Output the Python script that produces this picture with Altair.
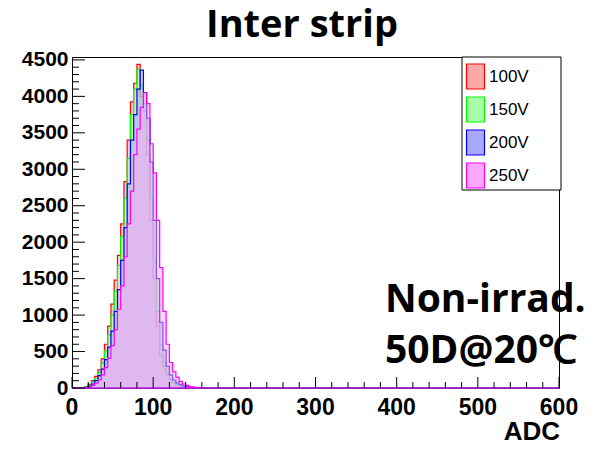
import altair as alt
import pandas as pd

# ---------------- data ----------------
series_names = ["100V", "150V", "200V", "250V"]
series_colors = ["#ff0000", "#00ff00", "#0000ff", "#ff00ff"]
series_fills = ["#ffa8a8", "#a8ffa8", "#a8a8ff", "#ffa8ff"]

# lower bin edges (ADC), bin width 4
bin_edges = list(range(12, 176, 4))

counts_100V = [5, 20, 50, 100, 160, 250, 400, 600, 850, 1150, 1480, 1820, 2250, 2830,
               3400, 3925, 4180, 4440, 4000, 3800, 3200, 2300, 1500, 850, 450, 300, 180,
               110, 65, 40, 25, 15, 9, 5, 3, 2, 1, 0, 0, 0, 0]
counts_150V = [3, 15, 40, 80, 130, 210, 340, 510, 730, 1000, 1330, 1680, 2080, 2600,
               3150, 3750, 4100, 4370, 4150, 3900, 3400, 2600, 1750, 1050, 600, 360, 210,
               125, 75, 45, 28, 17, 10, 6, 3, 2, 1, 0, 0, 0, 0]
counts_200V = [2, 10, 25, 55, 100, 170, 260, 390, 560, 780, 1050, 1350, 1750, 2200,
               2800, 3400, 3750, 4100, 4360, 4050, 3700, 3100, 2300, 1500, 900, 520, 300,
               180, 110, 70, 45, 28, 18, 11, 7, 4, 2, 1, 0, 0, 0]
counts_250V = [1, 5, 15, 35, 65, 110, 180, 280, 410, 580, 800, 1080, 1400, 1800,
               2250, 2700, 3200, 3550, 3850, 4050, 3900, 3350, 2950, 2300, 1650, 1050, 600,
               350, 220, 150, 90, 55, 35, 20, 12, 7, 4, 2, 1, 0, 0]

x_range = [0, 600]
y_range = [0, 4540]
x_major = [0, 100, 200, 300, 400, 500, 600]
x_minor = [v for v in range(0, 601, 20) if v % 100 != 0]
y_major = [0, 500, 1000, 1500, 2000, 2500, 3000, 3500, 4000, 4500]
y_minor = [v for v in range(0, 4501, 100) if v % 500 != 0]

title_text = "Inter strip"
note_line1 = "Non-irrad."
note_line2 = "50D@20℃"
x_title = "ADC"

# ---------------- build table ----------------
rows = []
for name, vals in zip(series_names, [counts_100V, counts_150V, counts_200V, counts_250V]):
    rows.append({"series": name, "adc": x_range[0], "count": 0})
    for e, v in zip(bin_edges, vals):
        rows.append({"series": name, "adc": e, "count": v})
    rows.append({"series": name, "adc": x_range[1], "count": 0})
df = pd.DataFrame(rows)

W, H = 487, 331
x_scale = alt.Scale(domain=x_range, nice=False, zero=False)
y_scale = alt.Scale(domain=y_range, nice=False)
stroke_scale = alt.Scale(domain=series_names, range=series_colors)
fill_scale = alt.Scale(domain=series_names, range=series_fills)

y_axis = alt.Axis(values=y_major, ticks=False, domain=False, grid=False, format="d",
                  labelFont="Liberation Sans", labelFontSize=21,
                  labelFontWeight="bold", labelColor="black",
                  labelPadding=4, labelFlush=False, title=None)

legend = alt.Legend(
    title=None, orient="none", legendX=388, legendY=4,
    symbolType="M-0.72,-1H0.72V1H-0.72Z", symbolSize=625, symbolStrokeWidth=1.2,
    labelFont="Liberation Sans", labelFontSize=17, labelColor="black",
    rowPadding=2, padding=2, labelOffset=0,
)

hist = alt.Chart(df).mark_area(
    interpolate="step-after", fillOpacity=0.5, strokeWidth=1.2
).encode(
    x=alt.X("adc:Q", scale=x_scale, axis=None),
    y=alt.Y("count:Q", scale=y_scale, stack=None, axis=y_axis),
    fill=alt.Fill("series:N", scale=fill_scale, legend=legend),
    stroke=alt.Stroke("series:N", scale=stroke_scale, legend=legend),
    detail="series:N",
)

# x tick labels
xlabels = alt.Chart(pd.DataFrame({"v": x_major})).mark_text(
    font="Liberation Sans", fontSize=23, fontWeight="bold", color="black",
    align="center", baseline="top"
).encode(x=alt.X("v:Q", scale=x_scale, axis=None), y=alt.value(H + 9), text="v:Q")

# tick marks (inside the frame, ROOT style)
xmaj = alt.Chart(pd.DataFrame({"v": x_major})).mark_rule(color="black", strokeWidth=1).encode(
    x=alt.X("v:Q", scale=x_scale, axis=None), y=alt.value(H), y2=alt.value(H - 11))
xmin = alt.Chart(pd.DataFrame({"v": x_minor})).mark_rule(color="black", strokeWidth=1).encode(
    x=alt.X("v:Q", scale=x_scale, axis=None), y=alt.value(H), y2=alt.value(H - 6))
ymaj = alt.Chart(pd.DataFrame({"v": y_major})).mark_rule(color="black", strokeWidth=1).encode(
    y=alt.Y("v:Q", scale=y_scale, axis=y_axis), x=alt.value(0), x2=alt.value(13))
ymin = alt.Chart(pd.DataFrame({"v": y_minor})).mark_rule(color="black", strokeWidth=1).encode(
    y=alt.Y("v:Q", scale=y_scale, axis=y_axis), x=alt.value(0), x2=alt.value(7))

# legend frame
legend_box = alt.Chart(pd.DataFrame({"k": [0]})).mark_rect(
    fill="white", stroke="black", strokeWidth=1
).encode(x=alt.value(390), x2=alt.value(489), y=alt.value(0), y2=alt.value(133))

title = alt.Chart(pd.DataFrame({"t": [title_text]})).mark_text(
    font="Open Sans", fontSize=38, fontWeight="bold", color="black",
    align="center", baseline="alphabetic"
).encode(text="t:N", x=alt.value(230), y=alt.value(-20))

note1 = alt.Chart(pd.DataFrame({"t": [note_line1]})).mark_text(
    font="Open Sans", fontSize=39, fontWeight="bold", color="black",
    align="left", baseline="alphabetic"
).encode(text="t:N", x=alt.value(313), y=alt.value(255))
note2 = alt.Chart(pd.DataFrame({"t": [note_line2]})).mark_text(
    font="Open Sans", fontSize=39, fontWeight="bold", color="black",
    align="left", baseline="alphabetic"
).encode(text="t:N", x=alt.value(313), y=alt.value(306))

xlab = alt.Chart(pd.DataFrame({"t": [x_title]})).mark_text(
    font="Liberation Sans", fontSize=26, fontWeight="bold", color="black",
    align="right", baseline="alphabetic"
).encode(text="t:N", x=alt.value(488), y=alt.value(H + 52))

chart = alt.layer(
    legend_box, hist, xmin, xmaj, ymin, ymaj, xlabels, title, note1, note2, xlab
).properties(
    width=W, height=H,
    autosize=alt.AutoSizeParams(type="none"),
    padding={"left": 64, "top": 49, "right": 29, "bottom": 55},
    background="white",
).configure_view(stroke="black", strokeWidth=1)

chart.save("out.html", embed_options={"renderer": "svg", "actions": False})
